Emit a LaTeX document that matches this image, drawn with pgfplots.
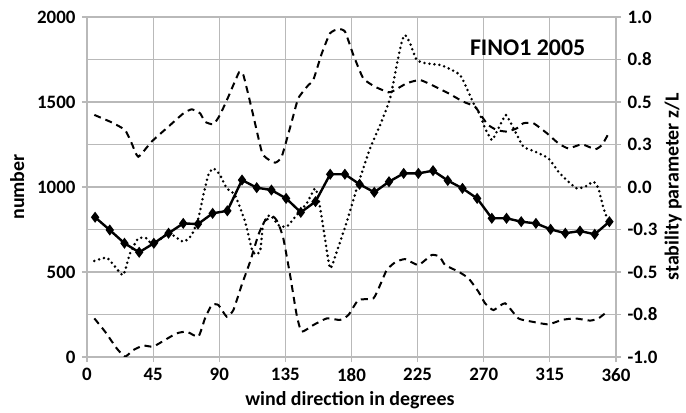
\documentclass[border=0pt]{standalone}
\usepackage{fontspec}
\setmainfont{Carlito}
\usepackage{pgfplots}
\pgfplotsset{compat=1.18}

\definecolor{gridgray}{RGB}{185,185,185}

% solid line with markers (left axis units)
\pgfplotstableread{
x y
5.5 822
15.5 747
25.5 669
35.5 616
45.5 669
55.5 728
65.5 786
75.5 782
85.5 845
95.5 860
105.5 1041
115.5 996
125.5 982
135.5 933
145.5 851
155.5 914
165.5 1075
175.5 1075
185.5 1016
195.5 969
205.5 1031
215.5 1080
225.5 1080
235.5 1096
245.5 1038
255.5 992
265.5 933
275.5 816
285.5 816
295.5 796
305.5 786
315.5 751
325.5 728
335.5 741
345.5 722
355.5 796
}\tabsolid

\pgfplotstableread{
x y
5 1424
16.8 1380
25.9 1335
30.4 1257
34.9 1178
44 1267
55.4 1355
65.6 1433
71.3 1457
77 1433
80.3 1384
86 1369
90.5 1424
96.2 1531
103.5 1675
106.4 1659
112 1463
118.9 1208
122.3 1169
128 1143
132.5 1178
139.3 1384
143.8 1522
150.7 1600
154 1629
159.8 1786
165.4 1904
171 1929
175.6 1914
181.3 1776
188 1639
196 1590
205 1557
208.5 1565
217.6 1610
226.7 1629
237 1590
246 1551
256 1502
264 1473
268.7 1414
273 1365
278.9 1335
285.7 1326
292.5 1345
297 1375
303.8 1375
313 1316
320.8 1257
327.6 1227
336.8 1251
345.8 1222
350.4 1247
354.4 1306
}\tabupper

\pgfplotstableread{
x y
5 227
12.3 149
20.2 51
25.9 2
31.5 41
38.3 67
45 61
53 100
61 139
67.9 149
75.8 120
80.3 227
84.9 306
89.4 306
95.1 237
99.6 276
105.3 424
111 561
116.6 718
121 800
126.8 825
130 790
133.6 698
138.2 482
142.7 247
146.1 149
154 188
163.2 227
172.2 218
177.9 247
184.7 335
194.9 345
199.5 424
204 512
209.7 557
216.5 576
225.5 541
234.6 600
240 590
243.7 541
252.8 502
259.6 463
266.4 384
270.9 316
276.6 276
284.5 316
293.6 227
302.7 208
314 192
323.1 218
332.2 227
342.4 214
348 227
352.6 257
}\tablower

\pgfplotstableread{
x y
5 565
13.4 584
19.1 531
24.7 482
29.3 610
34.9 698
40.6 698
45 659
55.4 728
65.6 678
71.3 718
75.8 816
79.2 953
82.6 1071
86 1110
90.5 1071
95.1 992
100.7 953
107.6 796
112 639
114.4 605
117.8 620
120 786
124.6 835
130.2 776
136 767
142.7 835
149.5 904
155.2 992
157.5 933
160.9 757
165.4 522
170 620
176.8 796
183.6 992
185.8 1051
192.6 1227
199.5 1365
206.3 1522
210.8 1718
214.2 1855
216.5 1894
219.9 1845
224.4 1747
231.2 1727
240.3 1718
246 1698
253.9 1659
258.5 1580
263 1492
267.5 1424
270.9 1345
275.5 1276
278.9 1326
282.3 1384
285 1424
288 1384
291.4 1326
297 1237
305 1208
314 1169
320.8 1090
327.6 1031
333.3 992
339 1002
344.6 1031
348 992
351.5 875
354.9 796
356 757
}\tabdotted

\begin{document}
\begin{tikzpicture}
\useasboundingbox (0,0) rectangle (686bp,413bp);
\begin{axis}[
    at={(87bp,56bp)}, anchor=south west,
    scale only axis, width=529bp, height=340bp,
    xmin=0, xmax=360, ymin=0, ymax=2000,
    xtick={0,45,...,360},
    ytick={0,500,...,2000},
    minor ytick={250,750,1250,1750},
    grid=both,
    major grid style={gridgray, line width=1.1bp},
    minor grid style={gridgray, line width=1.1bp},
    axis line style={gridgray, line width=1.1bp},
    tick style={gridgray, line width=1.1bp},
    major tick length=5bp, minor tick length=0pt,
    tick align=outside,
    xtick pos=bottom, ytick pos=left,
    /pgf/number format/assume math mode=true,
    /pgf/number format/1000 sep={},
    ticklabel style={font=\fontsize{19}{21}\selectfont\bfseries},
    yticklabel style={xshift=-3bp},
    xticklabel style={yshift=-3bp},
    xlabel={wind direction in degrees},
    ylabel={number},
    label style={font=\fontsize{20}{22}\selectfont\bfseries},
    xlabel style={at={(rel axis cs:0.497,-0.128)}, anchor=center},
    ylabel style={at={(rel axis cs:-0.132,0.5)}, anchor=center},
]
\addplot[black, line width=2bp, dash pattern=on 7bp off 5bp, smooth, tension=0.3] table {\tabupper};
\addplot[black, line width=2bp, dash pattern=on 7bp off 5bp, smooth, tension=0.3] table {\tablower};
\addplot[black, line width=2.8bp, line cap=round, dash pattern=on 0bp off 5bp, smooth, tension=0.3] table {\tabdotted};
\addplot[black, line width=2.4bp, mark=diamond*, mark size=3.6bp, mark options={solid}] table {\tabsolid};
\node at (rel axis cs:0.833,0.909) {\fontsize{24}{26}\selectfont\bfseries FINO1 2005};
\end{axis}
\begin{axis}[
    at={(87bp,56bp)}, anchor=south west,
    scale only axis, width=529bp, height=340bp,
    xmin=0, xmax=360, ymin=-1, ymax=1,
    axis x line=none,
    axis y line*=right,
    axis line style={gridgray, line width=1.1bp},
    tick style={gridgray, line width=1.1bp},
    major tick length=5bp, tick align=outside,
    ytick={-1,-0.75,-0.5,-0.25,0,0.25,0.5,0.75,1},
    yticklabels={-1.0,-0.8,-0.5,-0.3,0.0,0.3,0.5,0.8,1.0},
    ticklabel style={font=\fontsize{19}{21}\selectfont\bfseries},
    yticklabel style={xshift=3bp},
    ylabel={stability parameter z/L},
    label style={font=\fontsize{20}{22}\selectfont\bfseries},
    ylabel style={at={(rel axis cs:1.108,0.5)}, anchor=center, rotate=0},
]
\end{axis}
\end{tikzpicture}
\end{document}
